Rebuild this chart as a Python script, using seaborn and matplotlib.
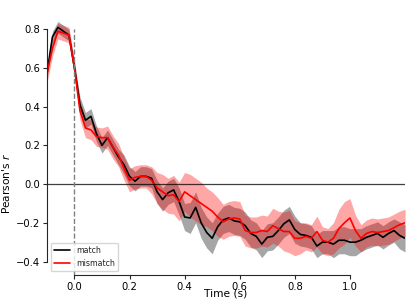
import numpy as np
import pandas as pd
import seaborn as sns
import matplotlib.pyplot as plt

#%% data (mean and band half-width per condition)
time = np.round(np.arange(-0.10, 1.2001, 0.02), 2)

match_mean = [0.57, 0.76, 0.81, 0.79, 0.77, 0.60, 0.41, 0.33, 0.35, 0.26,
              0.20, 0.24, 0.19, 0.14, 0.10, 0.04, 0.015, 0.04, 0.04, 0.03,
              -0.04, -0.08, -0.045, -0.03, -0.09, -0.17, -0.175, -0.12, -0.20, -0.25,
              -0.28, -0.22, -0.185, -0.175, -0.19, -0.195, -0.215, -0.255, -0.27, -0.31,
              -0.275, -0.27, -0.24, -0.205, -0.185, -0.235, -0.26, -0.265, -0.275, -0.32,
              -0.30, -0.30, -0.31, -0.29, -0.29, -0.30, -0.30, -0.29, -0.275, -0.265,
              -0.255, -0.275, -0.255, -0.24, -0.265, -0.28]
match_err = [0.03, 0.03, 0.03, 0.03, 0.03, 0.03, 0.04, 0.04, 0.04, 0.04,
             0.04, 0.04, 0.04, 0.04, 0.05, 0.05, 0.05, 0.05, 0.05, 0.05,
             0.06, 0.06, 0.06, 0.06, 0.07, 0.07, 0.08, 0.08, 0.08, 0.08,
             0.08, 0.07, 0.07, 0.07, 0.07, 0.07, 0.07, 0.07, 0.07, 0.07,
             0.07, 0.07, 0.07, 0.07, 0.07, 0.07, 0.06, 0.06, 0.06, 0.06,
             0.06, 0.06, 0.07, 0.07, 0.07, 0.07, 0.07, 0.06, 0.06, 0.06,
             0.06, 0.06, 0.06, 0.06, 0.07, 0.07]

mismatch_mean = [0.57, 0.70, 0.79, 0.78, 0.77, 0.60, 0.38, 0.29, 0.28, 0.245,
                 0.24, 0.24, 0.19, 0.15, 0.08, 0.02, 0.035, 0.04, 0.04, 0.02,
                 -0.02, -0.04, -0.06, -0.055, -0.09, -0.04, -0.06, -0.08, -0.10, -0.12,
                 -0.14, -0.17, -0.195, -0.18, -0.175, -0.18, -0.24, -0.25, -0.25, -0.24,
                 -0.245, -0.215, -0.23, -0.245, -0.245, -0.28, -0.28, -0.27, -0.28, -0.245,
                 -0.29, -0.30, -0.28, -0.23, -0.20, -0.175, -0.24, -0.28, -0.255, -0.245,
                 -0.25, -0.245, -0.24, -0.225, -0.21, -0.20]
mismatch_err = [0.05, 0.04, 0.04, 0.04, 0.04, 0.04, 0.05, 0.05, 0.05, 0.05,
                0.05, 0.06, 0.06, 0.06, 0.06, 0.06, 0.06, 0.06, 0.06, 0.07,
                0.08, 0.09, 0.09, 0.10, 0.10, 0.10, 0.11, 0.11, 0.11, 0.10,
                0.10, 0.10, 0.09, 0.09, 0.09, 0.09, 0.08, 0.08, 0.08, 0.08,
                0.08, 0.09, 0.09, 0.10, 0.11, 0.09, 0.08, 0.07, 0.07, 0.08,
                0.07, 0.07, 0.08, 0.10, 0.11, 0.10, 0.08, 0.07, 0.07, 0.07,
                0.07, 0.07, 0.07, 0.07, 0.07, 0.07]

labels = ['match', 'mismatch']
colors = ['black', 'red']

#%% long format for seaborn
df = pd.concat([
    pd.DataFrame({'Time': time, 'r': match_mean, 'err': match_err, 'cond': 'match'}),
    pd.DataFrame({'Time': time, 'r': mismatch_mean, 'err': mismatch_err, 'cond': 'mismatch'}),
])

#%% plot
sns.set_style('ticks')
fig = plt.figure(figsize=(4.15, 3.07), dpi=100)
ax = fig.add_axes([0.113, 0.104, 0.863, 0.870])

for lab, col in zip(labels, colors):
    sub = df[df['cond'] == lab]
    ax.fill_between(sub['Time'], sub['r'] - sub['err'], sub['r'] + sub['err'],
                    color=col, alpha=0.35, linewidth=0)
sns.lineplot(data=df, x='Time', y='r', hue='cond', palette=colors,
             hue_order=labels, linewidth=1.2, ax=ax)

ax.axhline(0, color='k', lw=0.9, alpha=0.75)
ax.vlines(0, -0.47, 0.8, colors='gray', linestyles='--', lw=1)

ax.set_xlim(-0.1, 1.2)
ax.set_ylim(-0.47, 0.91)
ax.set_xticks([0.0, 0.2, 0.4, 0.6, 0.8, 1.0])
ax.set_yticks([-0.4, -0.2, 0.0, 0.2, 0.4, 0.6, 0.8])
ax.tick_params(labelsize=7.2, length=3, pad=2, labelcolor='k')
ax.set_xlabel('Time (s)', fontsize=7.7, labelpad=-2.5, color='k')
ax.set_ylabel("Pearson's $r$", fontsize=7.7, color='k')
ax.yaxis.set_label_coords(-0.098, 0.345)
sns.despine(ax=ax, trim=True)

ax.legend(loc='lower left', fontsize=5.7, frameon=True, handlelength=2)

fig.savefig('out.png', dpi=100)
